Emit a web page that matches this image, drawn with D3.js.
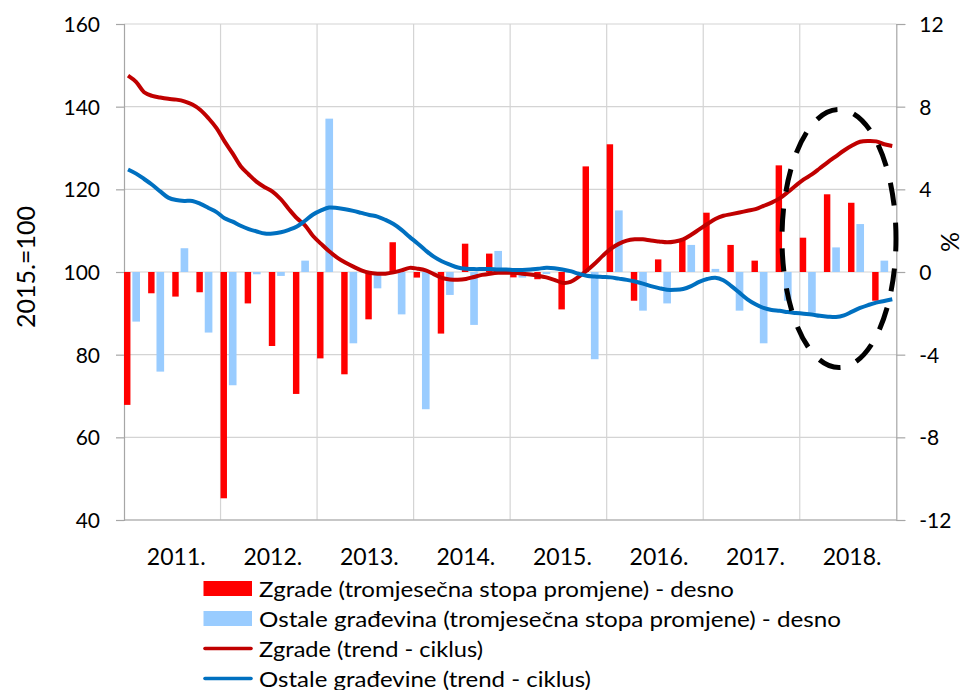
<!DOCTYPE html>
<html>
<head>
<meta charset="utf-8">
<script src="https://cdn.jsdelivr.net/npm/d3@7"></script>
<style>
body{margin:0;background:#fff;}
svg text{font-family:Lato,"Open Sans",sans-serif;fill:#000;}
</style>
</head>
<body>
<svg id="chart" width="963" height="690"></svg>
<script>
(function(){

var years = ["2011.", "2012.", "2013.", "2014.", "2015.", "2016.", "2017.", "2018."];
var leftTicks = [40, 60, 80, 100, 120, 140, 160];
var rightTicks = [-12, -8, -4, 0, 4, 8, 12];

// quarterly rates, % (right axis)
var zgradeQ = [-6.43, -1.03, -1.19, -0.98,
	-10.95, -1.52, -3.58, -5.90,
	-4.18, -4.95, -2.29, 1.44,
	-0.27, -2.98, 1.37, 0.89,
	-0.26, -0.35, -1.81, 5.11,
	6.18, -1.39, 0.61, 1.55,
	2.87, 1.31, 0.55, 5.16,
	1.66, 3.76, 3.35, -1.39];
var ostaleQ = [-2.40, -4.82, 1.15, -2.93,
	-5.48, -0.11, -0.19, 0.55,
	7.42, -3.45, -0.79, -2.05,
	-6.64, -1.11, -2.56, 1.02,
	-0.27, -0.10, 0.10, -4.22,
	2.98, -1.87, -1.52, 1.31,
	0.15, -1.87, -3.45, -1.39,
	-1.97, 1.19, 2.32, 0.55];

// monthly trend-cycle, 2015.=100 (left axis)
var zgradeT = [147.5, 146.0, 143.5, 142.6, 142.2, 141.9, 141.7, 141.3, 140.5, 139.2, 137.2, 134.8,
	131.6, 128.7, 125.6, 123.6, 121.8, 120.5, 119.4, 117.6, 115.2, 113.0, 111.3, 108.7,
	106.8, 105.0, 103.5, 102.3, 101.3, 100.4, 99.8, 99.6, 99.6, 99.9, 100.4, 101.0,
	100.8, 100.4, 99.5, 98.6, 98.2, 98.1, 98.3, 98.8, 99.3, 99.6, 99.8, 99.8,
	99.8, 99.6, 99.4, 99.1, 98.7, 98.1, 97.4, 97.6, 98.8, 100.3, 102.0, 103.9,
	105.6, 106.8, 107.6, 107.9, 107.9, 107.6, 107.4, 107.2, 107.4, 107.9, 109.0, 110.3,
	111.6, 112.8, 113.6, 114.0, 114.4, 114.8, 115.2, 116.0, 116.8, 117.8, 119.3, 120.9,
	122.4, 123.6, 125.1, 126.6, 128.0, 129.4, 130.6, 131.5, 131.7, 131.6, 130.9, 130.5];
var ostaleT = [124.8, 123.8, 122.5, 121.1, 119.5, 118.0, 117.4, 117.2, 117.2, 116.5, 115.5, 114.5,
	113.0, 112.2, 111.2, 110.4, 109.8, 109.3, 109.3, 109.6, 110.2, 111.0, 112.4, 113.9,
	114.9, 115.6, 115.5, 115.2, 114.8, 114.3, 113.8, 113.4, 112.6, 111.6, 110.2, 108.5,
	106.9, 105.2, 103.7, 102.6, 101.8, 101.1, 100.8, 100.7, 100.7, 100.7, 100.6, 100.6,
	100.5, 100.5, 100.6, 100.8, 101.0, 100.9, 100.6, 100.2, 99.6, 99.1, 98.9, 98.8,
	98.7, 98.4, 98.1, 97.7, 97.2, 96.6, 96.1, 95.7, 95.7, 95.9, 96.6, 97.6,
	98.3, 98.6, 98.0, 96.6, 95.0, 93.4, 92.2, 91.3, 90.8, 90.6, 90.3, 90.1,
	89.9, 89.7, 89.4, 89.2, 89.1, 89.5, 90.4, 91.3, 92.0, 92.6, 93.0, 93.4];

var legendItems = [
	{label: "Zgrade (tromjesečna stopa promjene) - desno", kind: "bar", color: "#FF0000", len: 475},
	{label: "Ostale građevina (tromjesečna stopa promjene) - desno", kind: "bar", color: "#99CCFF", len: 582},
	{label: "Zgrade (trend - ciklus)", kind: "line", color: "#C00000", len: 224},
	{label: "Ostale građevine (trend - ciklus)", kind: "line", color: "#0070C0", len: 332}
];

var left = 124, right = 896.3, top = 24, bottom = 520;
var svg = d3.select("#chart");

var months = d3.range(years.length * 12);
var x = d3.scaleBand().domain(months).range([left, right]).padding(0);
var xYear = d3.scaleBand().domain(years).range([left, right]).padding(0);
var yL = d3.scaleLinear().domain([40, 160]).range([bottom, top]);
var yR = d3.scaleLinear().domain([-12, 12]).range([bottom, top]);

//GRID
svg.append("g")
	.selectAll("line")
	.data(leftTicks)
	.join("line")
		.attr("x1", left)
		.attr("x2", right)
		.attr("y1", d => yL(d))
		.attr("y2", d => yL(d))
		.attr("stroke", "#D4D4D4")
		.attr("stroke-width", 1.2);

svg.append("g")
	.selectAll("line")
	.data(years.slice(1))
	.join("line")
		.attr("x1", d => xYear(d))
		.attr("x2", d => xYear(d))
		.attr("y1", top)
		.attr("y2", bottom)
		.attr("stroke", "#D4D4D4")
		.attr("stroke-width", 1.2);

//AXES
var leftAxis = d3.axisLeft(yL).tickValues(leftTicks).tickSize(8).tickPadding(16);
var rightAxis = d3.axisRight(yR).tickValues(rightTicks).tickSize(9).tickPadding(14)
	.tickFormat(d => d < 0 ? "-" + Math.abs(d) : d);

function styleAxis(g){
	g.select(".domain").attr("stroke", "#A6A6A6").attr("stroke-width", 1.2);
	g.selectAll(".tick line").attr("stroke", "#A6A6A6").attr("stroke-width", 1.2);
	g.selectAll(".tick text")
		.attr("fill", "#111")
		.style("font-size", "21px")
		.attr("dy", "0.36em");
}

svg.append("g")
	.attr("transform", `translate(${left},0)`)
	.call(leftAxis)
	.call(styleAxis);

svg.append("g")
	.attr("transform", `translate(${right},0)`)
	.call(rightAxis)
	.call(styleAxis);

svg.append("line")
	.attr("x1", left)
	.attr("x2", right)
	.attr("y1", bottom)
	.attr("y2", bottom)
	.attr("stroke", "#A6A6A6")
	.attr("stroke-width", 1.2);

svg.append("g")
	.selectAll("text")
	.data(years)
	.join("text")
		.attr("x", d => xYear(d) + xYear.bandwidth() / 2 + 4)
		.attr("y", 565)
		.attr("text-anchor", "middle")
		.style("font-size", "23px")
		.attr("fill", "#111")
		.text(d => d);

svg.append("text")
	.attr("transform", "translate(35,267) rotate(-90)")
	.attr("text-anchor", "middle")
	.style("font-size", "25px")
	.attr("fill", "#111")
	.text("2015.=100");

svg.append("text")
	.attr("transform", "translate(959,242) rotate(-90)")
	.attr("text-anchor", "middle")
	.style("font-size", "25px")
	.attr("fill", "#111")
	.text("%");

//BARS
var bw = x.bandwidth();

svg.append("g")
	.selectAll("rect")
	.data(zgradeQ)
	.join("rect")
		.attr("x", (d, i) => x(i * 3))
		.attr("width", bw * 0.8)
		.attr("y", d => yR(Math.max(0, d)))
		.attr("height", d => Math.abs(yR(d) - yR(0)))
		.attr("fill", "#FF0000");

svg.append("g")
	.selectAll("rect")
	.data(ostaleQ)
	.join("rect")
		.attr("x", (d, i) => x(i * 3 + 1) + 0.3)
		.attr("width", bw * 0.95)
		.attr("y", d => yR(Math.max(0, d)))
		.attr("height", d => Math.abs(yR(d) - yR(0)))
		.attr("fill", "#99CCFF");

//LINES
var line = d3.line()
	.x((d, i) => x(i) + bw / 2)
	.y(d => yL(d))
	.curve(d3.curveCatmullRom);

svg.append("path")
	.datum(zgradeT)
	.attr("d", line)
	.attr("fill", "none")
	.attr("stroke", "#C00000")
	.attr("stroke-width", 4)
	.attr("stroke-linejoin", "round");

svg.append("path")
	.datum(ostaleT)
	.attr("d", line)
	.attr("fill", "none")
	.attr("stroke", "#0070C0")
	.attr("stroke-width", 4)
	.attr("stroke-linejoin", "round");

//HIGHLIGHT
svg.append("ellipse")
	.attr("cx", 839)
	.attr("cy", 238.5)
	.attr("rx", 57)
	.attr("ry", 129)
	.attr("fill", "none")
	.attr("stroke", "#000")
	.attr("stroke-width", 5)
	.attr("stroke-dasharray", "23,17")
	.attr("stroke-dashoffset", 10);

//LEGEND
var legend = svg.append("g")
	.selectAll("g")
	.data(legendItems)
	.join("g")
		.attr("transform", (d, i) => `translate(0,${588.5 + i * 30})`);

legend.filter(d => d.kind == "bar")
	.append("rect")
		.attr("x", 203.5)
		.attr("y", -7.5)
		.attr("width", 48.5)
		.attr("height", 15)
		.attr("fill", d => d.color);

legend.filter(d => d.kind == "line")
	.append("line")
		.attr("x1", 205)
		.attr("x2", 251)
		.attr("y1", 0)
		.attr("y2", 0)
		.attr("stroke", d => d.color)
		.attr("stroke-width", 3.6)
		.attr("stroke-linecap", "round");

legend.append("text")
	.attr("x", 259)
	.attr("y", 8)
	.style("font-size", "21.5px")
	.attr("fill", "#111")
	.attr("textLength", d => d.len)
	.attr("lengthAdjust", "spacingAndGlyphs")
	.text(d => d.label);

})()
</script>
</body>
</html>
